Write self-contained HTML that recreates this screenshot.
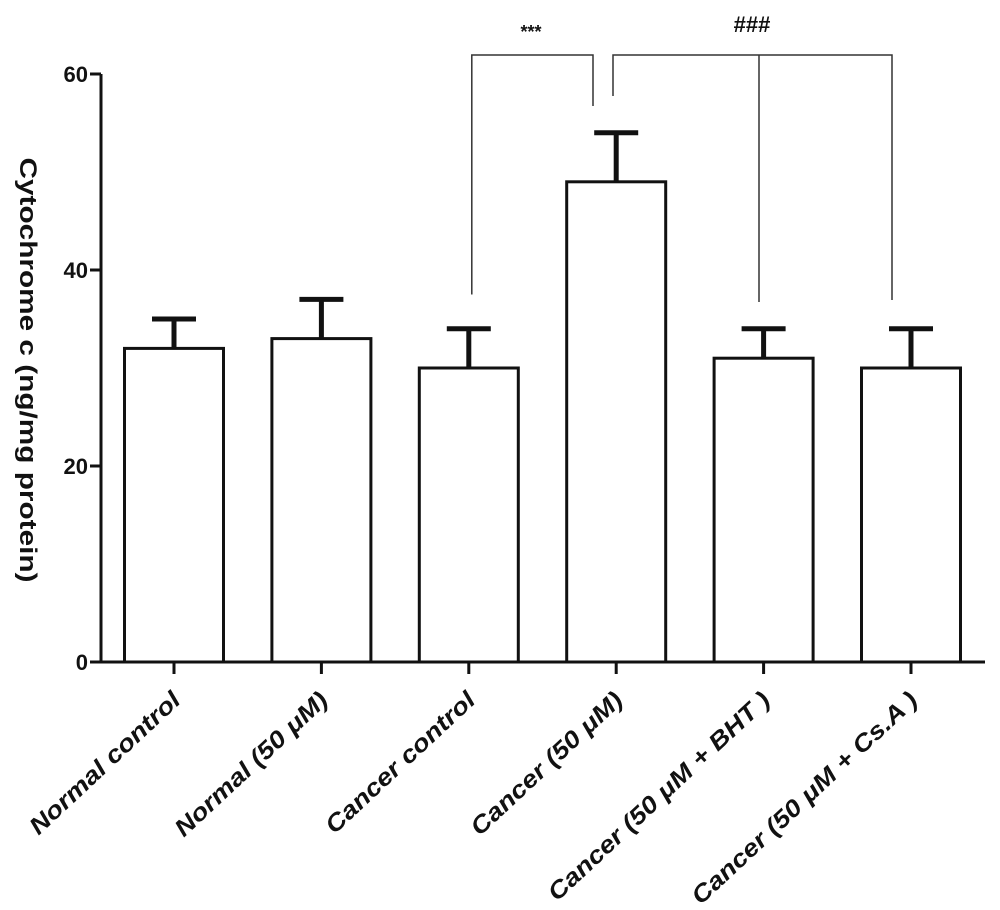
<!DOCTYPE html>
<html><head><meta charset="utf-8"><style>body{margin:0;background:#fff}svg{display:block}text{font-family:"Liberation Sans",Arial,sans-serif;font-weight:bold;fill:#111}</style></head>
<body>
<svg id="chart" width="1000" height="910" viewBox="0 0 1000 910" xmlns="http://www.w3.org/2000/svg"></svg>
<script>
const categories=["Normal control","Normal  (50 \u03bcM)","Cancer control","Cancer (50 \u03bcM)","Cancer (50 \u03bcM + BHT )","Cancer (50 \u03bcM + Cs.A )"];
const means=[32,33,30,49,31,30];
const errors=[3,4,4,5,3,4];
const yTicks=[0,20,40,60];
const NS="http://www.w3.org/2000/svg";
const svg=document.getElementById('chart');
const y0=662,yTop=74,yMax=60;
const y=v=>y0-(v/yMax)*(y0-yTop);
const x=i=>174+i*147.4;
const bw=99;
function mk(tag,attrs,parent){const e=document.createElementNS(NS,tag);for(const k in attrs)e.setAttribute(k,attrs[k]);(parent||svg).appendChild(e);return e;}
let ax=mk('line',{x1:101,y1:yTop,x2:101,y2:y0+1,stroke:'#111','stroke-width':3});


yTicks.forEach(t=>{
 const l=mk('line',{x1:90,y1:y(t),x2:101,y2:y(t),stroke:'#111','stroke-width':3});
 
 
 const tx=mk('text',{x:88,y:y(t)+8,'text-anchor':'end','font-size':22});
 tx.textContent=t;
 
 
});
let xa=mk('line',{x1:92,y1:y0,x2:985,y2:y0,stroke:'#111','stroke-width':3});


let yt=mk('text',{transform:'translate(20,370) rotate(90)','text-anchor':'middle','font-size':24,textLength:425,lengthAdjust:'spacingAndGlyphs'});
yt.textContent='Cytochrome c (ng/mg protein)';


categories.forEach((c,i)=>{
 const cx=x(i);
 const b=mk('rect',{x:cx-bw/2,y:y(means[i]),width:bw,height:y0-y(means[i]),fill:'#fff',stroke:'#111','stroke-width':3});
 
 
 const e=mk('path',{d:`M${cx} ${y(means[i])} V${y(means[i]+errors[i])} M${cx-22} ${y(means[i]+errors[i])} H${cx+22}`,stroke:'#111','stroke-width':5,fill:'none'});
 
 
 const tk=mk('line',{x1:cx,y1:y0,x2:cx,y2:y0+12,stroke:'#111','stroke-width':3});
 
 
 const lb=mk('text',{transform:`translate(${cx+8},${y0+40}) rotate(-43)`,'text-anchor':'end','font-size':24,'font-style':'italic'});
 lb.textContent=c;
 
 
 const w=lb.getComputedTextLength();
 lb.setAttribute('textLength',w*1.15);
 lb.setAttribute('lengthAdjust','spacingAndGlyphs');
});
let br1=mk('path',{d:`M${x(2)+3} ${y(37.5)} V55 H593 V106`,stroke:'#333','stroke-width':1.5,fill:'none'});


let br2=mk('path',{d:`M613 96 V55 H892 V300 M759 55 V302`,stroke:'#333','stroke-width':1.5,fill:'none'});


let s1=mk('text',{x:531,y:38,'text-anchor':'middle','font-size':18});
s1.textContent='***';


let s2=mk('text',{x:752,y:32,'text-anchor':'middle','font-size':22,'font-weight':'normal'});
s2.textContent='###';


</script>
</body></html>
